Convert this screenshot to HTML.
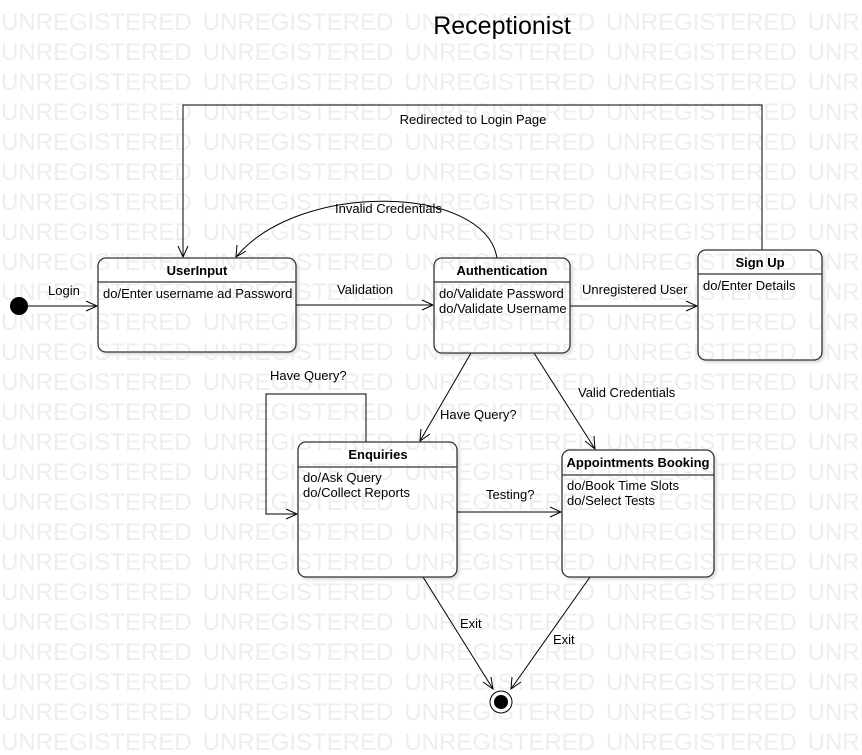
<!DOCTYPE html>
<html><head><meta charset="utf-8"><style>
html,body{margin:0;padding:0;background:#fff;width:862px;height:755px;overflow:hidden}
svg{position:absolute;left:0;top:0}
.wm{position:absolute;left:0;top:0;width:862px;height:755px;overflow:hidden;mix-blend-mode:darken;pointer-events:none}
.wm div{position:absolute;left:1px;white-space:pre;font:24px "Liberation Sans",sans-serif;color:#eeeeee;word-spacing:4.3px;line-height:30px}
</style></head><body>
<svg width="862" height="755" font-family="Liberation Sans, sans-serif" font-size="13">
<defs><filter id="sh"><feDropShadow dx="2" dy="2" stdDeviation="1.5" flood-color="#000" flood-opacity="0.15"/></filter></defs>
<text x="502" y="34" font-size="25" text-anchor="middle">Receptionist</text>
<g fill="none" stroke="#000" stroke-width="1">
<line x1="28" y1="306" x2="97" y2="306"/><polyline points="86,301 97,306 86,311"/>
<line x1="296" y1="305" x2="433" y2="305"/><polyline points="422,300 433,305 422,310"/>
<line x1="570" y1="306" x2="697" y2="306"/><polyline points="686,301 697,306 686,311"/>
<polyline points="762,250 762,105 183,105 183,257"/><polyline points="178,246 183,257 188,246"/>
<path d="M497,258 C485,185 300,180 236,257"/><polyline points="237,245 236,257 246,251"/>
<line x1="471" y1="353" x2="420" y2="441"/><polyline points="421,429 420,441 430,434"/>
<line x1="534" y1="353" x2="595" y2="449"/><polyline points="585,441 595,449 594,436"/>
<polyline points="366,442 366,394 266,394 266,514 297,514"/><polyline points="286,509 297,514 286,519"/>
<line x1="457" y1="512" x2="561" y2="512"/><polyline points="550,507 561,512 550,517"/>
<line x1="423" y1="577" x2="493" y2="689"/><polyline points="483,682 493,689 491,677"/>
<line x1="590" y1="577" x2="511" y2="689"/><polyline points="512,677 511,689 521,682"/>
</g>
<g fill="#fff" stroke="#333" stroke-width="1.3" filter="url(#sh)">
<rect x="98" y="258" width="198" height="94" rx="8"/>
<rect x="434" y="258" width="136" height="95" rx="8"/>
<rect x="698" y="250" width="124" height="110" rx="8"/>
<rect x="298" y="442" width="159" height="135" rx="8"/>
<rect x="562" y="450" width="152" height="127" rx="8"/>
</g>
<g stroke="#333" stroke-width="1.3">
<line x1="98" y1="282" x2="296" y2="282"/>
<line x1="434" y1="282" x2="570" y2="282"/>
<line x1="698" y1="274" x2="822" y2="274"/>
<line x1="298" y1="467" x2="457" y2="467"/>
<line x1="562" y1="475" x2="714" y2="475"/>
</g>
<circle cx="19" cy="306" r="9" fill="#000"/>
<circle cx="501" cy="702" r="11" fill="#fff" stroke="#000"/>
<circle cx="501" cy="702" r="7" fill="#000"/>
<g font-weight="bold" text-anchor="middle">
<text x="197" y="275">UserInput</text>
<text x="502" y="275">Authentication</text>
<text x="760" y="267">Sign Up</text>
<text x="378" y="459">Enquiries</text>
<text x="638" y="467">Appointments Booking</text>
</g>
<text x="103" y="298">do/Enter username ad Password</text>
<text x="439" y="298">do/Validate Password</text>
<text x="439" y="313">do/Validate Username</text>
<text x="703" y="290">do/Enter Details</text>
<text x="303" y="482">do/Ask Query</text>
<text x="303" y="497">do/Collect Reports</text>
<text x="567" y="490">do/Book Time Slots</text>
<text x="567" y="505">do/Select Tests</text>
<text x="48" y="295">Login</text>
<text x="337" y="294">Validation</text>
<text x="582" y="294">Unregistered User</text>
<text x="473" y="124" text-anchor="middle">Redirected to Login Page</text>
<text x="335" y="213">Invalid Credentials</text>
<text x="440" y="419">Have Query?</text>
<text x="578" y="397">Valid Credentials</text>
<text x="270" y="380">Have Query?</text>
<text x="486" y="499">Testing?</text>
<text x="460" y="628">Exit</text>
<text x="553" y="644">Exit</text>
</svg>
<div class="wm">
<div style="top:8px">UNREGISTERED UNREGISTERED UNREGISTERED UNREGISTERED UNREGISTERED</div>
<div style="top:38px">UNREGISTERED UNREGISTERED UNREGISTERED UNREGISTERED UNREGISTERED</div>
<div style="top:68px">UNREGISTERED UNREGISTERED UNREGISTERED UNREGISTERED UNREGISTERED</div>
<div style="top:98px">UNREGISTERED UNREGISTERED UNREGISTERED UNREGISTERED UNREGISTERED</div>
<div style="top:128px">UNREGISTERED UNREGISTERED UNREGISTERED UNREGISTERED UNREGISTERED</div>
<div style="top:158px">UNREGISTERED UNREGISTERED UNREGISTERED UNREGISTERED UNREGISTERED</div>
<div style="top:188px">UNREGISTERED UNREGISTERED UNREGISTERED UNREGISTERED UNREGISTERED</div>
<div style="top:218px">UNREGISTERED UNREGISTERED UNREGISTERED UNREGISTERED UNREGISTERED</div>
<div style="top:248px">UNREGISTERED UNREGISTERED UNREGISTERED UNREGISTERED UNREGISTERED</div>
<div style="top:278px">UNREGISTERED UNREGISTERED UNREGISTERED UNREGISTERED UNREGISTERED</div>
<div style="top:308px">UNREGISTERED UNREGISTERED UNREGISTERED UNREGISTERED UNREGISTERED</div>
<div style="top:338px">UNREGISTERED UNREGISTERED UNREGISTERED UNREGISTERED UNREGISTERED</div>
<div style="top:368px">UNREGISTERED UNREGISTERED UNREGISTERED UNREGISTERED UNREGISTERED</div>
<div style="top:398px">UNREGISTERED UNREGISTERED UNREGISTERED UNREGISTERED UNREGISTERED</div>
<div style="top:428px">UNREGISTERED UNREGISTERED UNREGISTERED UNREGISTERED UNREGISTERED</div>
<div style="top:458px">UNREGISTERED UNREGISTERED UNREGISTERED UNREGISTERED UNREGISTERED</div>
<div style="top:488px">UNREGISTERED UNREGISTERED UNREGISTERED UNREGISTERED UNREGISTERED</div>
<div style="top:518px">UNREGISTERED UNREGISTERED UNREGISTERED UNREGISTERED UNREGISTERED</div>
<div style="top:548px">UNREGISTERED UNREGISTERED UNREGISTERED UNREGISTERED UNREGISTERED</div>
<div style="top:578px">UNREGISTERED UNREGISTERED UNREGISTERED UNREGISTERED UNREGISTERED</div>
<div style="top:608px">UNREGISTERED UNREGISTERED UNREGISTERED UNREGISTERED UNREGISTERED</div>
<div style="top:638px">UNREGISTERED UNREGISTERED UNREGISTERED UNREGISTERED UNREGISTERED</div>
<div style="top:668px">UNREGISTERED UNREGISTERED UNREGISTERED UNREGISTERED UNREGISTERED</div>
<div style="top:698px">UNREGISTERED UNREGISTERED UNREGISTERED UNREGISTERED UNREGISTERED</div>
<div style="top:728px">UNREGISTERED UNREGISTERED UNREGISTERED UNREGISTERED UNREGISTERED</div>
</div>
</body></html>
